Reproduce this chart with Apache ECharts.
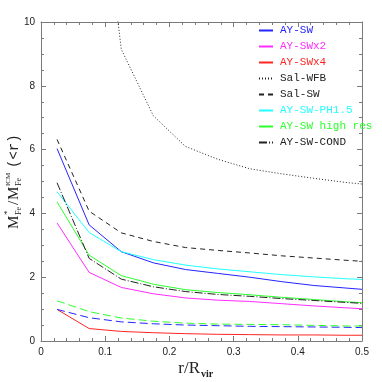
<!DOCTYPE html>
<html><head><meta charset="utf-8">
<script src="https://cdn.jsdelivr.net/npm/echarts@6/dist/echarts.min.js"></script>
<style>html,body{margin:0;padding:0;background:#fff}#c{width:382px;height:382px}</style>
</head><body><div id="c"></div>
<script>
// r / R_vir sample positions
const radii = [0.025, 0.075, 0.125, 0.175, 0.225, 0.275, 0.325, 0.375, 0.425, 0.475, 0.5];
const aySW      = [6.03, 3.64, 2.80, 2.45, 2.24, 2.12, 2.00, 1.86, 1.74, 1.66, 1.62];
const aySWx2    = [3.70, 2.15, 1.68, 1.48, 1.35, 1.28, 1.24, 1.17, 1.10, 1.04, 1.01];
const aySWx4    = [0.99, 0.39, 0.30, 0.26, 0.23, 0.21, 0.20, 0.19, 0.19, 0.18, 0.18];
const salWFB    = [null, 17.6, 9.15, 7.06, 6.10, 5.70, 5.40, 5.24, 5.10, 4.97, 4.92];
const salSW     = [6.32, 4.07, 3.39, 3.12, 2.93, 2.84, 2.76, 2.67, 2.60, 2.53, 2.50];
const aySWPH15  = [4.68, 3.40, 2.80, 2.55, 2.38, 2.26, 2.17, 2.08, 2.01, 1.95, 1.93];
const aySWHigh  = [4.36, 2.69, 2.05, 1.78, 1.61, 1.52, 1.45, 1.37, 1.30, 1.23, 1.20];
const aySWCond  = [4.96, 2.59, 1.94, 1.70, 1.55, 1.46, 1.40, 1.33, 1.27, 1.21, 1.18];
const aySWStarDash   = [0.99, 0.73, 0.60, 0.54, 0.50, 0.48, 0.46, 0.45, 0.44, 0.43, 0.42];
const aySWHighDash   = [1.26, 0.92, 0.72, 0.62, 0.56, 0.53, 0.52, 0.51, 0.49, 0.47, 0.47];
const xTicks = [0, 0.1, 0.2, 0.3, 0.4, 0.5];
const yTicks = [0, 2, 4, 6, 8, 10];

const legendNames = ['AY-SW','AY-SWx2','AY-SWx4','Sal-WFB','Sal-SW','AY-SW-PH1.5','AY-SW high res','AY-SW-COND'];
const legendColors = ['#2424ff','#ff2cff','#ff2424','#222222','#222222','#22ffff','#2cff2c','#222222'];

function pairs(vals){ return radii.map((r,i)=>[r, vals[i]]); }

function mk(name, vals, color, type){
  return {name, type:'line', data: pairs(vals), symbol:'none', clip:true,
    lineStyle:{color, width:1, type}, itemStyle:{color}, emphasis:{disabled:true}};
}

const axisCol = '#7a7a7a';
function xAx(pos, show){
  return {type:'value', position:pos, min:0, max:0.5, interval:0.1,
    axisLine:{show:true, onZero:false, lineStyle:{color:axisCol}},
    axisTick:{show:true, inside:true, length:5, lineStyle:{color:axisCol}},
    minorTick:{show:true, splitNumber:5, length:3, lineStyle:{color:axisCol}},
    axisLabel:{show:show, margin:6, color:'#222', fontSize:10, fontFamily:'Liberation Sans',
      formatter:v=>{ const t = xTicks.find(x=>Math.abs(x-v)<1e-9); return t===undefined? '' : String(t); }},
    splitLine:{show:false}};
}
function yAx(pos, show){
  return {type:'value', position:pos, min:0, max:10, interval:2,
    axisLine:{show:true, onZero:false, lineStyle:{color:axisCol}},
    axisTick:{show:true, inside:true, length:5, lineStyle:{color:axisCol}},
    minorTick:{show:true, splitNumber:4, length:3, lineStyle:{color:axisCol}},
    axisLabel:{show:show, margin:6, color:'#222', fontSize:10, fontFamily:'Liberation Sans',
      formatter:v=>{ const t = yTicks.find(x=>Math.abs(x-v)<1e-9); return t===undefined? '' : String(t); }},
    splitLine:{show:false}};
}

const serif = 'Liberation Serif';
const chart = echarts.init(document.getElementById('c'), null, {renderer:'canvas'});
chart.setOption({
  animation:false,
  backgroundColor:'#fff',
  grid:{left:41, right:20, top:22, bottom:41},
  xAxis:[xAx('bottom', true), xAx('top', false)],
  yAxis:[yAx('left', true), yAx('right', false)],
  legend:{
    orient:'vertical', left:258, top:25, padding:0,
    itemWidth:14, itemHeight:11, itemGap:5,
    selectedMode:false,
    itemStyle:{color:'rgba(0,0,0,0)', borderWidth:0, opacity:0},
    textStyle:{fontFamily:'Liberation Mono', fontSize:11, padding:[0,0,0,2]},
    data: legendNames.map((n,i)=>({name:n, textStyle:{color:legendColors[i]}}))
  },
  series:[
    mk('AY-SW', aySW, legendColors[0], 'solid'),
    mk('AY-SWx2', aySWx2, legendColors[1], 'solid'),
    mk('AY-SWx4', aySWx4, legendColors[2], 'solid'),
    mk('Sal-WFB', salWFB, legendColors[3], [1,2]),
    mk('Sal-SW', salSW, legendColors[4], [5,4]),
    mk('AY-SW-PH1.5', aySWPH15, legendColors[5], 'solid'),
    mk('AY-SW high res', aySWHigh, legendColors[6], 'solid'),
    mk('AY-SW-COND', aySWCond, legendColors[7], [8,2,1,2]),
    mk('AY-SW (dashed)', aySWStarDash, legendColors[0], [8,4]),
    mk('AY-SW high res (dashed)', aySWHighDash, legendColors[6], [8,4])
  ],
  graphic:[
    {type:'group', x:14, y:229, rotation:Math.PI/2, children:[
      {type:'text', x:0, y:0, style:{text:'M', font:'15px '+serif, fill:'#222', verticalAlign:'middle'}},
      {type:'text', x:14, y:-6, style:{text:'*', font:'9px '+serif, fill:'#222', verticalAlign:'middle'}},
      {type:'text', x:14, y:5, style:{text:'Fe', font:'8px '+serif, fill:'#222', verticalAlign:'middle'}},
      {type:'text', x:24, y:0, style:{text:'/', font:'15px '+serif, fill:'#222', verticalAlign:'middle'}},
      {type:'text', x:29, y:0, style:{text:'M', font:'15px '+serif, fill:'#222', verticalAlign:'middle'}},
      {type:'text', x:43, y:-6, style:{text:'ICM', font:'7px '+serif, fill:'#222', verticalAlign:'middle'}},
      {type:'text', x:43, y:5, style:{text:'Fe', font:'8px '+serif, fill:'#222', verticalAlign:'middle'}},
      {type:'text', x:61, y:0, style:{text:'(<r)', font:'14px Liberation Mono', fill:'#222', verticalAlign:'middle'}}
    ]},
    {type:'text', x:200, y:369, style:{text:'r/R', font:'17px '+serif, fill:'#222', align:'right', verticalAlign:'middle'}},
    {type:'text', x:201, y:374, style:{text:'vir', font:'bold 10px '+serif, fill:'#222', align:'left', verticalAlign:'middle'}}
  ]
});
</script>
</body></html>
